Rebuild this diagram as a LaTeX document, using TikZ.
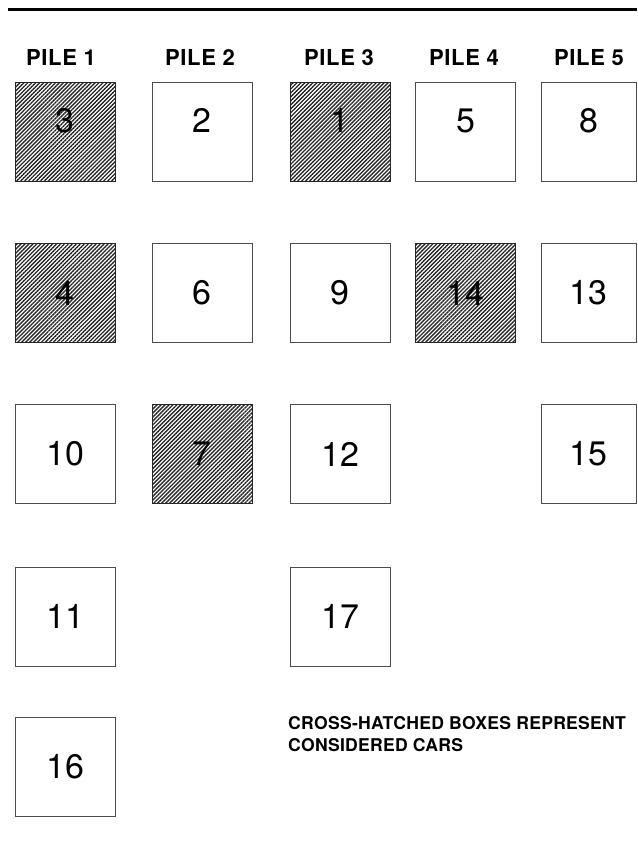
\documentclass[tikz,border=0pt]{standalone}
\usepackage{fontspec}
\setmainfont{TeX Gyre Heros}
\newfontfamily\pilefont[LetterSpace=3]{TeX Gyre Heros}
\newfontfamily\notefont[LetterSpace=1.5]{TeX Gyre Heros}
\usetikzlibrary{patterns.meta}

\begin{document}
\begin{tikzpicture}[
  x=1pt, y=-1pt,
  car/.style={draw=black!70, line width=0.9pt, minimum width=100pt,
              minimum height=99pt, inner sep=0pt,
              font=\fontsize{34}{34}\selectfont},
  hcar/.style={car, draw=black!85,
               pattern={Lines[angle=45,distance=2.8pt,line width=1.35pt]},
               pattern color=black!85},
  firstrow/.style={text depth=22pt},
  lastpile/.style={minimum width=95pt},
  pile/.style={anchor=base, inner sep=0pt,
               font=\pilefont\fontsize{22}{22}\selectfont\bfseries},
  note/.style={anchor=north west, inner sep=0pt, align=left,
               font=\notefont\fontsize{17.6}{22}\selectfont\bfseries}
]
  \useasboundingbox (0,0) rectangle (637,851);
  \draw[line width=3pt] (8,9.5) -- (637,9.5);

  % pile headings
  \node[pile] (p1) at (61,66)    {PILE 1};
  \node[pile] (p2) at (200,66)   {PILE 2};
  \node[pile] (p3) at (339,66)   {PILE 3};
  \node[pile] (p4) at (464,66)   {PILE 4};
  \node[pile] (p5) at (589,66)   {PILE 5};

  % row 1
  \node[hcar,firstrow] (c3)  at (65,131.5)    {3};
  \node[car,firstrow]  (c2)  at (202,131.5)   {2};
  \node[hcar,firstrow] (c1)  at (340,131.5)   {1};
  \node[car,firstrow]  (c5)  at (465.5,131.5) {5};
  \node[car,firstrow,lastpile] (c8) at (588.5,131.5) {8};
  % row 2
  \node[hcar] (c4)  at (65,293)    {4};
  \node[car]  (c6)  at (202,293)   {6};
  \node[car]  (c9)  at (340,293)   {9};
  \node[hcar] (c14) at (465.5,293) {14};
  \node[car,lastpile] (c13) at (588.5,293) {13};
  % row 3
  \node[car]  (c10) at (65,454)    {10};
  \node[hcar] (c7)  at (202,454)   {7};
  \node[car]  (c12) at (340,454)   {12};
  \node[car,lastpile] (c15) at (588.5,454) {15};
  % row 4 and 5
  \node[car]  (c11) at (65,616.5)  {11};
  \node[car]  (c17) at (340,616.5) {17};
  \node[car]  (c16) at (65,766.5)  {16};

  \node[note] (key) at (288,716.5)
    {CROSS-HATCHED BOXES REPRESENT\\CONSIDERED CARS};
\end{tikzpicture}
\end{document}
